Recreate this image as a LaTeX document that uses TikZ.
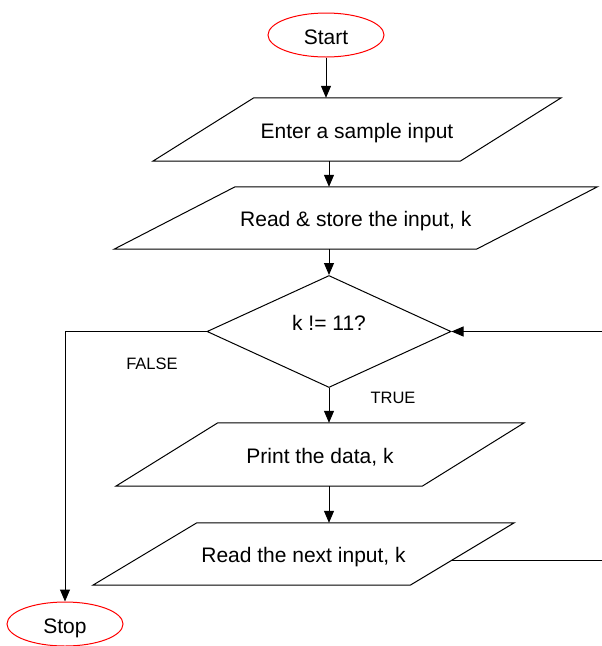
\documentclass[tikz,border=0pt]{standalone}
\usepackage{fontspec}
\setmainfont{Liberation Sans}
\usetikzlibrary{shapes.geometric,arrows.meta,calc}
\tikzset{
  shapeline/.style={draw=black, line width=1pt},
  conn/.style={draw=black, line width=1pt},
  arr/.style={conn, -{Triangle[length=12pt,width=10pt]}},
  term/.style={ellipse, draw=red, line width=1pt, inner sep=0pt,
    minimum width=116pt, minimum height=44pt, text height=19pt, text depth=0pt,
    font=\fontsize{21}{25}\selectfont},
  ptext/.style={inner sep=0pt, text height=17pt, text depth=0pt, font=\fontsize{21}{25}\selectfont},
  lbl/.style={inner sep=0pt, font=\fontsize{16.5}{20}\selectfont},
  decide/.style={diamond, shapeline, inner sep=0pt, minimum width=244pt, minimum height=112pt}
}
\newcommand{\drawpara}[2]{\draw[shapeline] ($(#1.north west)+(#2pt,0pt)$) -- ($(#1.north east)+(#2pt,0pt)$) -- ($(#1.south east)+(-#2pt,0pt)$) -- ($(#1.south west)+(-#2pt,0pt)$) -- cycle;}
\begin{document}
\begin{tikzpicture}[x=1pt,y=-1pt]
\clip (0,0) rectangle (602,646);
\fill[white] (0,0) rectangle (602,646);
% terminals
\node[term] (start) at (326,35) {Start};
\node[term] (stop) at (65,624) {Stop};
% parallelograms (text nodes sized to the shapes)
\node[ptext, minimum width=307pt, minimum height=63pt] (p1) at (357,129.5) {Enter a sample input};
\drawpara{p1}{50.5}
\node[ptext, minimum width=362pt, minimum height=62pt] (p2) at (355.75,218) {Read \& store the input, k};
\drawpara{p2}{60.5}
\node[ptext, minimum width=306pt, minimum height=63pt] (p3) at (320,454.5) {Print the data, k};
\drawpara{p3}{51}
\node[ptext, minimum width=317pt, minimum height=62pt] (p4) at (303.5,554) {Read the next input, k};
\drawpara{p4}{52}
% decision
\node[decide] (d) at (329,331.5) {};
\node[ptext] (dtext) at (329,322) {k != 11?};
% labels
\node[lbl] (lfalse) at (152,364) {FALSE};
\node[lbl] (ltrue) at (393,398) {TRUE};
% connectors
\draw[arr] (start.south) -- (start.south |- p1.north);
\draw[arr] (p1.south -| d.north) -- (p2.north -| d.north);
\draw[arr] (p2.south -| d.north) -- (d.north);
\draw[arr] (d.south) -- (p3.north -| d.south);
\draw[arr] (p3.south -| d.south) -- (p4.north -| d.south);
\draw[arr] (d.west) -| (stop.north);
\coordinate (loopstart) at (452,560);
\coordinate (loopcorner) at (610,560);
\draw[arr] (loopstart) -- (loopcorner) |- (d.east);
\end{tikzpicture}
\end{document}
